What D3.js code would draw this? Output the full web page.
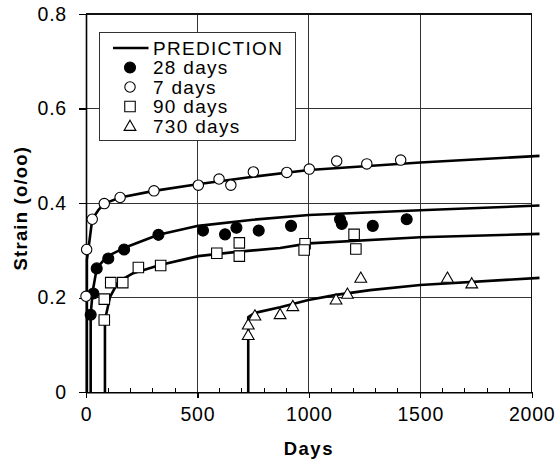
<!DOCTYPE html>
<html><head><meta charset="utf-8">
<script src="https://cdn.jsdelivr.net/npm/d3@7"></script>
<style>
body{margin:0;background:#fff;}
svg{display:block;font-family:Arial,"Liberation Sans",sans-serif;}
</style></head>
<body><svg id="c" width="557" height="463"></svg>
<script>
// ---- data ----
const xTicks = [0, 500, 1000, 1500, 2000];
const yTicks = [0, 0.2, 0.4, 0.6, 0.8];
const legendLabels = ["PREDICTION", "28 days", "7 days", "90 days", "730 days"];

const pred7Days  = [4, 4, 10, 28, 55, 82, 153, 305, 500, 750, 1000, 1500, 2035];
const pred7Vals  = [0, 0.28, 0.30, 0.366, 0.385, 0.399, 0.412, 0.426, 0.440, 0.456, 0.470, 0.486, 0.500];
const pred28Days = [21, 21, 30, 48, 93, 170, 325, 504, 750, 1000, 1500, 2035];
const pred28Vals = [0, 0.165, 0.213, 0.262, 0.287, 0.305, 0.333, 0.352, 0.365, 0.375, 0.385, 0.395];
const pred90Days = [85, 85, 108, 145, 212, 332, 504, 676, 871, 1000, 1500, 2035];
const pred90Vals = [0, 0.153, 0.202, 0.234, 0.252, 0.269, 0.288, 0.297, 0.305, 0.315, 0.328, 0.335];
const pred730Days = [728, 728, 758, 871, 998, 1122, 1275, 1500, 2035];
const pred730Vals = [0, 0.159, 0.168, 0.180, 0.195, 0.206, 0.216, 0.227, 0.242];

const obs28Days = [21, 33, 48, 100, 171, 325, 525, 624, 675, 775, 920, 1140, 1148, 1287, 1439];
const obs28Vals = [0.164, 0.209, 0.262, 0.283, 0.302, 0.333, 0.342, 0.334, 0.348, 0.342, 0.352, 0.366, 0.356, 0.352, 0.366];
const obs7Days = [0, 3, 28, 82, 153, 305, 504, 597, 650, 751, 901, 1002, 1125, 1260, 1412];
const obs7Vals = [0.203, 0.302, 0.366, 0.399, 0.412, 0.426, 0.438, 0.451, 0.438, 0.466, 0.465, 0.472, 0.489, 0.483, 0.491];
const obs90Days = [82, 82, 111, 165, 235, 335, 587, 688, 688, 983, 979, 1203, 1211];
const obs90Vals = [0.153, 0.197, 0.232, 0.232, 0.264, 0.268, 0.294, 0.316, 0.288, 0.314, 0.301, 0.334, 0.303];
const obs730Days = [728, 728, 758, 871, 928, 1122, 1173, 1233, 1622, 1731];
const obs730Vals = [0.119, 0.141, 0.160, 0.163, 0.180, 0.194, 0.206, 0.240, 0.240, 0.228];

// ---- layout ----
const svg = d3.select("#c");
const L = 86, R = 531.7, T = 14, B = 392.3;
const x = d3.scaleLinear().domain([0, 2000]).range([L, R]);
const y = d3.scaleLinear().domain([0, 0.8]).range([B, T]);

// grid
const g = svg.append("g").attr("shape-rendering", "crispEdges");
g.selectAll(".gx").data(xTicks.slice(1, -1)).join("line")
  .attr("x1", d => x(d)).attr("x2", d => x(d)).attr("y1", T).attr("y2", B)
  .attr("stroke", "#333").attr("stroke-width", 1);
g.selectAll(".gy").data(yTicks.slice(1, -1)).join("line")
  .attr("y1", d => y(d)).attr("y2", d => y(d)).attr("x1", L).attr("x2", R)
  .attr("stroke", "#333").attr("stroke-width", 1);
// border top/right
svg.append("path").attr("d", `M${L},${T}H${R}V${B}`).attr("fill", "none")
  .attr("stroke", "#111").attr("stroke-width", 1.2).attr("shape-rendering", "crispEdges");

// minor ticks on x
const minor = d3.range(100, 2000, 100).filter(d => d % 500 !== 0);
svg.selectAll(".mt").data(minor).join("line")
  .attr("x1", d => x(d)).attr("x2", d => x(d)).attr("y1", B).attr("y2", B - 4)
  .attr("stroke", "#000").attr("stroke-width", 1).attr("shape-rendering", "crispEdges");

// axes
const xAxis = svg.append("g").attr("transform", `translate(0,${B})`)
  .call(d3.axisBottom(x).tickValues(xTicks).tickFormat(d3.format("d")).tickSize(6).tickSizeOuter(0).tickPadding(9));
const yAxis = svg.append("g").attr("transform", `translate(${L},0)`)
  .call(d3.axisLeft(y).tickValues(yTicks).tickFormat(d => d === 0 ? "0" : d3.format(".1f")(d)).tickSize(7).tickSizeOuter(0).tickPadding(12));
[xAxis, yAxis].forEach(a => {
  a.select(".domain").attr("stroke", "#000").attr("stroke-width", 1.6);
  a.selectAll(".tick line").attr("stroke", "#000").attr("stroke-width", 1.2).attr("shape-rendering", "crispEdges");
  a.selectAll("text").attr("font-size", 19.5).attr("fill", "#000")
    .attr("font-family", "Arial, 'Liberation Sans', sans-serif").style("letter-spacing", "0.8px");
});

// titles
svg.append("text").attr("x", (L + R) / 2).attr("y", 455).attr("text-anchor", "middle")
  .attr("font-size", 18.5).attr("font-weight", "bold").style("letter-spacing", "1.5px").text("Days");
svg.append("text").attr("transform", `translate(27,${(T + B) / 2 + 5}) rotate(-90)`).attr("text-anchor", "middle")
  .attr("font-size", 18.5).attr("font-weight", "bold").style("letter-spacing", "1.2px").text("Strain (o/oo)");

// prediction lines
const line = d3.line().x(d => x(d[0])).y(d => y(d[1]));
const preds = [[pred7Days, pred7Vals], [pred28Days, pred28Vals], [pred90Days, pred90Vals], [pred730Days, pred730Vals]];
svg.selectAll(".pred").data(preds).join("path")
  .attr("d", p => line(p[0].map((d, i) => [d, p[1][i]])))
  .attr("fill", "none").attr("stroke", "#000").attr("stroke-width", 2.6).attr("stroke-linejoin", "round");

// markers
const sym = {
  fc: d3.symbol().type(d3.symbolCircle).size(Math.PI * 5.5 * 5.5),
  oc: d3.symbol().type(d3.symbolCircle).size(Math.PI * 5.2 * 5.2),
  sq: d3.symbol().type(d3.symbolSquare).size(10.5 * 10.5),
  tr: d3.symbol().type(d3.symbolTriangle).size(60)
};
const series = [
  {days: obs28Days, vals: obs28Vals, s: "fc", fill: "#000"},
  {days: obs7Days, vals: obs7Vals, s: "oc", fill: "#fff"},
  {days: obs90Days, vals: obs90Vals, s: "sq", fill: "#fff"},
  {days: obs730Days, vals: obs730Vals, s: "tr", fill: "#fff"}
];
series.forEach(se => {
  svg.append("g").selectAll("path").data(se.days.map((d, i) => [d, se.vals[i]])).join("path")
    .attr("transform", d => `translate(${x(d[0])},${y(d[1])})`)
    .attr("d", sym[se.s]()).attr("fill", se.fill).attr("stroke", "#000").attr("stroke-width", 1.1);
});

// legend
const lg = svg.append("g");
lg.append("rect").attr("x", 99.5).attr("y", 32.5).attr("width", 195.5).attr("height", 108)
  .attr("fill", "#fff").attr("stroke", "#333").attr("stroke-width", 1).attr("shape-rendering", "crispEdges");
const rowY = i => 48 + i * 19.5;
lg.append("line").attr("x1", 113).attr("x2", 148.5).attr("y1", rowY(0)).attr("y2", rowY(0))
  .attr("stroke", "#000").attr("stroke-width", 2.6);
series.forEach((se, i) => {
  lg.append("path").attr("transform", `translate(130,${rowY(i + 1) + (se.s === "tr" ? 1 : 0)})`)
    .attr("d", sym[se.s]()).attr("fill", se.fill).attr("stroke", "#000").attr("stroke-width", 1.1);
});
lg.selectAll("text").data(legendLabels).join("text")
  .attr("x", 153).attr("y", (d, i) => rowY(i) + 6.8)
  .attr("font-size", 19).style("letter-spacing", "1.3px").attr("fill", "#000").text(d => d);
</script></body></html>
